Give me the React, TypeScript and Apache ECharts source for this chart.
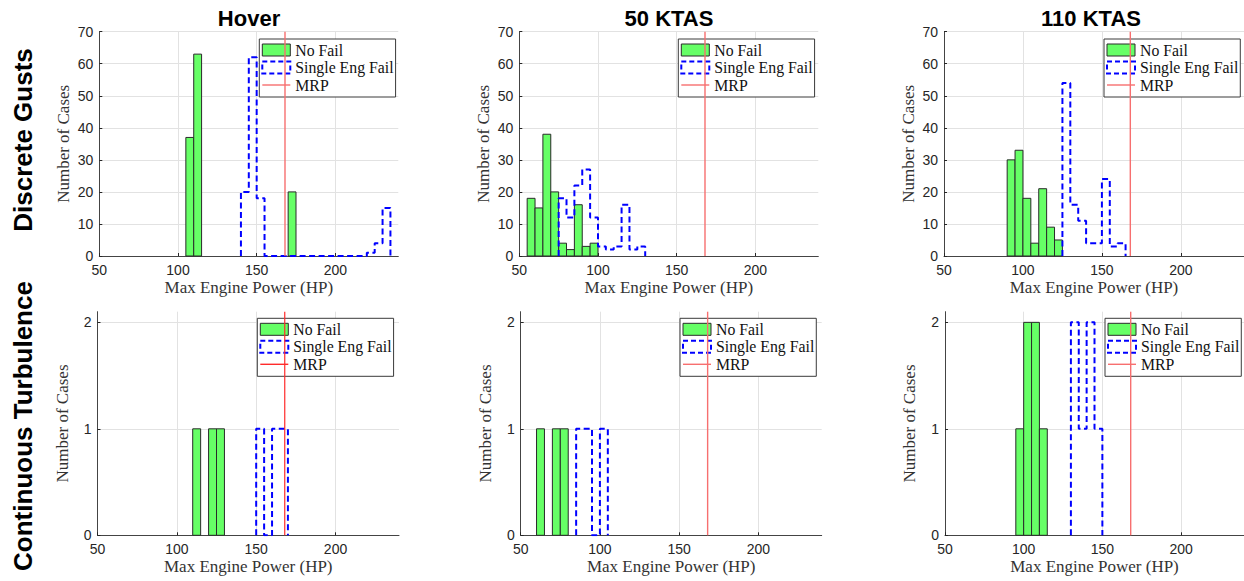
import React, { useEffect, useRef } from 'react';
import * as echarts from 'echarts';

// ---------------- data ----------------
const BIN = 5; // HP per histogram bin
const MRP = 168; // maximum rated power (HP)
const columnTitles = ['Hover', '50 KTAS', '110 KTAS'];
const rowTitles = ['Discrete Gusts', 'Continuous Turbulence'];
const legendNames = ['No Fail', 'Single Eng Fail', 'MRP'];
const xLabel = 'Max Engine Power (HP)';
const yLabel = 'Number of Cases';
const xMin = 50;
const xMax = 240;
const xStep = 50;
const yMaxByRow = [70, 2.1];
const yStepByRow = [10, 1];

// Discrete gusts — counts per 5 HP bin, first bin starting at *Start
const gustHoverNoFailStart = 105;
const gustHoverNoFail = [37, 63, 0, 0, 0, 0, 0, 0, 0, 0, 0, 0, 0, 20];
const gustHoverSingleStart = 140;
const gustHoverSingle = [20, 62, 18, 0, 0, 0, 0, 0, 0, 0, 0, 0, 0, 0, 0, 0, 1, 4, 15];
const gust50NoFailStart = 55;
const gust50NoFail = [18, 15, 38, 20, 4, 2, 16, 3, 4];
const gust50SingleStart = 75;
const gust50Single = [18, 12, 22, 27, 12, 3, 2, 3, 16, 2, 3];
const gust110NoFailStart = 90;
const gust110NoFail = [30, 33, 18, 4, 21, 9, 5];
const gust110SingleStart = 125;
const gust110Single = [54, 16, 11, 4, 4, 24, 3, 4];

// Continuous turbulence
const turbHoverNoFailStart = 110;
const turbHoverNoFail = [1, 0, 1, 1];
const turbHoverSingleStart = 150;
const turbHoverSingle = [1, 0, 1, 1];
const turb50NoFailStart = 60;
const turb50NoFail = [1, 0, 1, 1];
const turb50SingleStart = 85;
const turb50Single = [1, 1, 0, 1];
const turb110NoFailStart = 95;
const turb110NoFail = [1, 2, 2, 1];
const turb110SingleStart = 130;
const turb110Single = [2, 1, 2, 1];

const panels = [
  { row: 0, col: 0, nfStart: gustHoverNoFailStart, nf: gustHoverNoFail, sfStart: gustHoverSingleStart, sf: gustHoverSingle },
  { row: 0, col: 1, nfStart: gust50NoFailStart, nf: gust50NoFail, sfStart: gust50SingleStart, sf: gust50Single },
  { row: 0, col: 2, nfStart: gust110NoFailStart, nf: gust110NoFail, sfStart: gust110SingleStart, sf: gust110Single },
  { row: 1, col: 0, nfStart: turbHoverNoFailStart, nf: turbHoverNoFail, sfStart: turbHoverSingleStart, sf: turbHoverSingle },
  { row: 1, col: 1, nfStart: turb50NoFailStart, nf: turb50NoFail, sfStart: turb50SingleStart, sf: turb50Single },
  { row: 1, col: 2, nfStart: turb110NoFailStart, nf: turb110NoFail, sfStart: turb110SingleStart, sf: turb110Single },
];

// ---------------- layout ----------------
const gridLeft = [[99.3, 519.3, 944], [97.5, 520.7, 945]];
const gridWidth = [[299, 299, 302], [301.5, 301, 301]];
const gridTop = [31.7, 311.7];
const gridHeight = [224.3, 223.6];
const legendLeft = [[259.3, 678.3, 1104], [257.3, 680, 1105]];
const legendTop = [39, 318.3];
const mrpColor = [['#f76f6f', '#f76f6f', '#f76f6f'], ['#ff2b2b', '#f76f6f', '#f76f6f']];
const mrpWidth = [[1.4, 1.4, 1.4], [1.2, 1.4, 1.4]];

const AXIS = '#262626';
const GRIDC = '#e2e2e2';
const SANS = '"Liberation Sans", Arial, sans-serif';
const SERIF = '"Liberation Serif", "Times New Roman", serif';

function histBars(start: number, counts: number[]) {
  return counts.map((c, i) => [start + i * BIN, start + (i + 1) * BIN, c]);
}

function stairs(start: number, counts: number[]) {
  const pts: number[][] = [[start, 0]];
  counts.forEach((c, i) => {
    pts.push([start + i * BIN, c]);
    pts.push([start + (i + 1) * BIN, c]);
  });
  pts.push([start + counts.length * BIN, 0]);
  return pts;
}

function buildOption() {
  const grid: any[] = [];
  const xAxis: any[] = [];
  const yAxis: any[] = [];
  const series: any[] = [];
  const legend: any[] = [];

  panels.forEach((p, idx) => {
    const { row, col } = p;
    grid.push({
      left: gridLeft[row][col],
      top: gridTop[row],
      width: gridWidth[row][col],
      height: gridHeight[row],
      containLabel: false,
    });
    xAxis.push({
      type: 'value',
      gridIndex: idx,
      min: xMin,
      max: xMax,
      interval: xStep,
      name: xLabel,
      nameLocation: 'middle',
      nameGap: 23,
      nameTextStyle: { fontFamily: SERIF, fontSize: 17, color: '#333' },
      axisLine: { show: true, onZero: false, lineStyle: { color: '#444', width: 1 } },
      axisTick: { show: true, inside: true, length: 3, lineStyle: { color: AXIS } },
      axisLabel: { fontFamily: SANS, fontSize: 14, color: AXIS, margin: 7, showMaxLabel: false },
      splitLine: { show: true, showMaxLine: false, lineStyle: { color: GRIDC, width: 1 } },
    });
    yAxis.push({
      type: 'value',
      gridIndex: idx,
      min: 0,
      max: yMaxByRow[row],
      interval: yStepByRow[row],
      name: yLabel,
      nameLocation: 'middle',
      nameGap: 27,
      nameTextStyle: { fontFamily: SERIF, fontSize: 17, color: '#333' },
      axisLine: { show: true, lineStyle: { color: '#444', width: 1 } },
      axisTick: { show: true, inside: true, length: 3, lineStyle: { color: AXIS } },
      axisLabel: {
        fontFamily: SANS,
        fontSize: 14,
        color: AXIS,
        margin: 6,
        showMaxLabel: row === 0,
      },
      splitLine: { show: true, showMaxLine: row === 0, lineStyle: { color: GRIDC, width: 1 } },
    });

    series.push({
      type: 'custom',
      name: legendNames[0],
      xAxisIndex: idx,
      yAxisIndex: idx,
      encode: { x: [0, 1], y: 2 },
      data: histBars(p.nfStart, p.nf),
      z: 2,
      renderItem: (params: any, api: any) => {
        const x0 = api.value(0);
        const x1 = api.value(1);
        const c = api.value(2);
        if (!c) return null;
        const tl = api.coord([x0, c]);
        const br = api.coord([x1, 0]);
        return {
          type: 'rect',
          shape: { x: tl[0], y: tl[1], width: br[0] - tl[0], height: br[1] - tl[1] },
          style: { fill: '#66ff66', stroke: '#2a2a2a', lineWidth: 1 },
        };
      },
    });
    series.push({
      type: 'line',
      name: legendNames[1],
      xAxisIndex: idx,
      yAxisIndex: idx,
      data: stairs(p.sfStart, p.sf),
      symbol: 'none',
      showSymbol: false,
      z: 3,
      lineStyle: { color: '#0000ff', width: 2, type: [6, 3.5], cap: 'butt' },
      itemStyle: { color: '#0000ff' },
    });
    series.push({
      type: 'line',
      name: legendNames[2],
      xAxisIndex: idx,
      yAxisIndex: idx,
      data: [[MRP, 0], [MRP, yMaxByRow[row]]],
      symbol: 'none',
      showSymbol: false,
      z: 10,
      lineStyle: { color: mrpColor[row][col], width: mrpWidth[row][col] },
      itemStyle: { color: mrpColor[row][col] },
    });

    legend.push({
      left: legendLeft[row][col],
      top: legendTop[row],
      orient: 'vertical',
      selectedMode: false,
      itemWidth: 28,
      itemHeight: 12,
      itemGap: 1.5,
      itemTextGap: 2,
      padding: [3, 2, 4, 2],
      backgroundColor: '#ffffff',
      borderColor: '#3a3a3a',
      borderWidth: 1,
      borderRadius: 0,
      z: 4,
      textStyle: { fontFamily: SERIF, fontSize: 15.8, color: '#111', lineHeight: 16 },
      data: [
        {
          name: legendNames[0],
          icon: 'rect',
          itemStyle: { color: '#66ff66', borderColor: '#2a2a2a', borderWidth: 1 },
        },
        {
          name: legendNames[1],
          icon: 'rect',
          itemStyle: { color: 'rgba(0,0,0,0)', borderColor: '#0000ff', borderWidth: 2, borderType: [5, 3] },
        },
        {
          name: legendNames[2],
          icon: 'path://M0 0H28V1.4H0Z',
          itemStyle: { color: mrpColor[row][col], borderWidth: 0, opacity: 1 },
        },
      ],
    });
  });

  const titleCenters = [249, 669, 1091];
  const graphic: any[] = [];
  columnTitles.forEach((t, i) => {
    graphic.push({
      type: 'text',
      x: titleCenters[i],
      y: 18,
      style: {
        text: t,
        font: `bold 22px ${SANS}`,
        fill: '#000',
        align: 'center',
        verticalAlign: 'middle',
      },
    });
  });
  const rowCenters = [140, 426];
  rowTitles.forEach((t, i) => {
    graphic.push({
      type: 'text',
      x: 23,
      y: rowCenters[i],
      rotation: Math.PI / 2,
      style: {
        text: t,
        font: `bold 26px ${SANS}`,
        fill: '#000',
        align: 'center',
        verticalAlign: 'middle',
      },
    });
  });

  return {
    animation: false,
    backgroundColor: '#ffffff',
    grid,
    xAxis,
    yAxis,
    series,
    legend,
    graphic,
  };
}

export default function App() {
  const ref = useRef<HTMLDivElement>(null);
  useEffect(() => {
    document.body.style.margin = '0';
    if (!ref.current) return;
    const chart = echarts.init(ref.current, undefined, { renderer: 'svg' });
    chart.setOption(buildOption() as any);
    return () => {
      chart.dispose();
    };
  }, []);
  return <div ref={ref} style={{ width: 1244, height: 581 }} />;
}
